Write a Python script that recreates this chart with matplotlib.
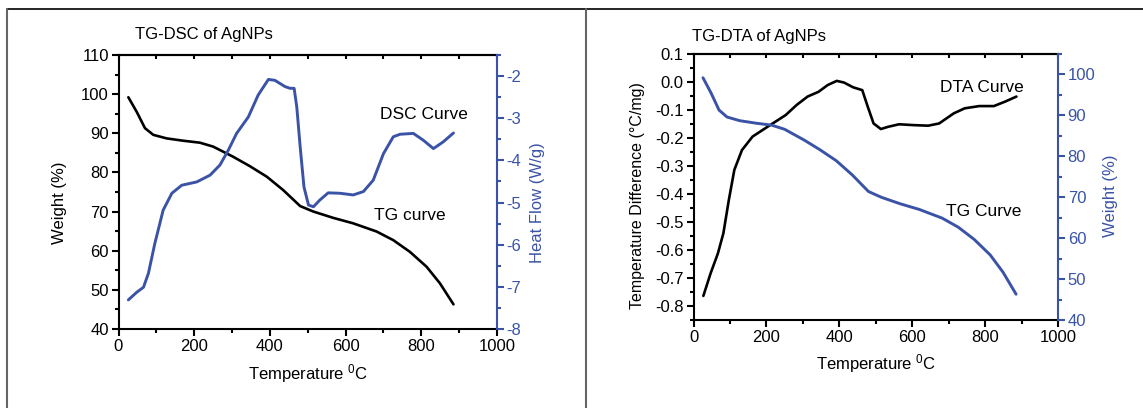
#TG-DSC / TG-DTA of AgNPs
import numpy as np
import matplotlib
matplotlib.use("Agg")
import matplotlib.pyplot as plt
from matplotlib.lines import Line2D
from matplotlib.ticker import MultipleLocator

plt.rcParams['font.family'] = ['Liberation Sans', 'DejaVu Sans']
plt.rcParams['mathtext.fontset'] = 'custom'
plt.rcParams['mathtext.rm'] = 'Liberation Sans'
plt.rcParams['mathtext.it'] = 'Liberation Sans:italic'
plt.rcParams['axes.unicode_minus'] = False
plt.rcParams['lines.solid_joinstyle'] = 'round'
plt.rcParams['lines.solid_capstyle'] = 'round'

BLUE = '#3a53a6'

#TG curve (weight %) -- same data in both panels
tg_temp = [26, 48, 70, 92, 127, 171, 215, 250, 303, 347, 392, 435, 480, 515,
           567, 620, 682, 726, 770, 814, 849, 885]
tg_weight = [99.2, 95.5, 91.3, 89.6, 88.7, 88.1, 87.6, 86.6, 84.0, 81.6, 78.9, 75.5,
             71.4, 70.0, 68.4, 67.0, 64.9, 62.7, 59.7, 55.9, 51.7, 46.3]

#DSC curve (heat flow W/g)
dsc_temp = [26, 48, 66, 79, 96, 118, 141, 167, 207, 242, 268, 290, 312, 343, 369,
            396, 413, 440, 453, 464, 471, 480, 490, 502, 515, 532, 554, 585, 620,
            647, 673, 700, 726, 744, 779, 805, 832, 858, 885]
dsc_flow = [-7.31, -7.13, -7.01, -6.68, -5.97, -5.18, -4.78, -4.59, -4.51, -4.35,
            -4.11, -3.76, -3.36, -2.97, -2.45, -2.08, -2.10, -2.25, -2.29, -2.29,
            -2.73, -3.68, -4.63, -5.06, -5.10, -4.94, -4.77, -4.78, -4.82, -4.74,
            -4.47, -3.84, -3.44, -3.38, -3.36, -3.52, -3.72, -3.56, -3.35]

#DTA curve (temperature difference C/mg)
dta_temp = [27, 47, 67, 82, 97, 112, 133, 162, 203, 253, 283, 313, 343, 368, 393,
            413, 438, 463, 478, 494, 514, 534, 564, 604, 644, 674, 714, 744, 784,
            824, 855, 886]
dta_diff = [-0.764, -0.683, -0.612, -0.540, -0.421, -0.314, -0.243, -0.195, -0.160,
            -0.118, -0.082, -0.052, -0.035, -0.011, 0.004, -0.002, -0.019, -0.029,
            -0.088, -0.148, -0.168, -0.160, -0.151, -0.154, -0.156, -0.148, -0.112,
            -0.094, -0.086, -0.086, -0.070, -0.052]

fig = plt.figure(figsize=(11.43, 4.08), dpi=100)

#frame lines around the picture
fig.add_artist(Line2D([7/1143, 1], [1-9.3/408, 1-9.3/408], color='black', lw=1.2))
fig.add_artist(Line2D([7/1143, 7/1143], [0, 1-9.3/408], color='#666666', lw=1.5))
fig.add_artist(Line2D([586/1143, 586/1143], [0, 1-9.3/408], color='#666666', lw=1.5))


def style(ax, ax2):
    ax.spines['right'].set_visible(False)
    for s in ['left', 'bottom', 'top']:
        ax.spines[s].set_linewidth(1.5)
    ax2.spines['right'].set_linewidth(1.5)
    ax2.spines['right'].set_color(BLUE)
    for s in ['left', 'bottom', 'top']:
        ax2.spines[s].set_visible(False)
    ax.tick_params(which='major', direction='out', length=5, width=1.5,
                   labelsize=12, pad=2)
    ax.tick_params(which='minor', direction='out', length=3, width=1.5)
    ax2.tick_params(which='major', direction='out', length=5, width=1.5,
                    labelsize=12, pad=2, colors=BLUE)
    ax2.tick_params(which='minor', direction='out', length=3, width=1.5, colors=BLUE)
    ax.set_xlim(0, 1000)
    ax.xaxis.set_major_locator(MultipleLocator(200))
    ax.xaxis.set_minor_locator(MultipleLocator(100))
    top = ax.secondary_xaxis('top')
    top.xaxis.set_major_locator(MultipleLocator(100))
    top.tick_params(direction='in', length=3, width=1.5, labeltop=False)
    top.spines['top'].set_linewidth(1.5)


#----- left panel: TG-DSC -----
ax = fig.add_axes([118.5/1143, 1-329/408, 378.5/1143, 274/408])
ax2 = ax.twinx()
ax.plot(tg_temp, tg_weight, color='black', lw=1.9)
ax2.plot(dsc_temp, dsc_flow, color=BLUE, lw=2.1)
ax.set_ylim(40, 110)
ax.yaxis.set_major_locator(MultipleLocator(10))
ax.yaxis.set_minor_locator(MultipleLocator(5))
ax2.set_ylim(-8, -1.5)
ax2.yaxis.set_major_locator(MultipleLocator(1))
ax2.yaxis.set_minor_locator(MultipleLocator(0.5))
style(ax, ax2)
ax.set_xlabel('Temperature $^{0}$C', fontsize=12)
ax.xaxis.set_label_coords(0.5, -0.164)
ax.xaxis.label.set_va('center')
ax.set_ylabel('Weight (%)', fontsize=12)
ax.yaxis.set_label_coords(-0.155, 0.46)
ax.yaxis.label.set_va('center')
ax2.set_ylabel('Heat Flow (W/g)', fontsize=12, color=BLUE)
ax2.yaxis.set_label_coords(1.108, 0.46)
ax2.yaxis.label.set_va('center')
ax.text(691, 94.7, 'DSC Curve', fontsize=12.5, va='center', ha='left')
ax.text(676, 68.9, 'TG curve', fontsize=12.5, va='center', ha='left')
fig.text(135/1143, 1-34/408, 'TG-DSC of AgNPs', fontsize=12, va='center', ha='left')

#----- right panel: TG-DTA -----
bx = fig.add_axes([693.5/1143, 1-320/408, 364.5/1143, 266/408])
bx2 = bx.twinx()
bx.plot(dta_temp, dta_diff, color='black', lw=1.9)
bx2.plot(tg_temp, tg_weight, color=BLUE, lw=2.1)
bx.set_ylim(-0.85, 0.1)
bx.yaxis.set_major_locator(MultipleLocator(0.1))
bx.yaxis.set_minor_locator(MultipleLocator(0.05))
bx.yaxis.set_major_formatter(lambda v, p: f"{v:.1f}".replace('-0.0', '0.0'))
bx2.set_ylim(40, 105)
bx2.yaxis.set_major_locator(MultipleLocator(10))
bx2.yaxis.set_minor_locator(MultipleLocator(5))
style(bx, bx2)
bx.set_xlabel('Temperature $^{0}$C', fontsize=12)
bx.xaxis.set_label_coords(0.5, -0.162)
bx.xaxis.label.set_va('center')
bx.set_ylabel('Temperature Difference (\u00b0C/mg)', fontsize=11.5)
bx.yaxis.set_label_coords(-0.153, 0.466)
bx.yaxis.label.set_va('center')
bx2.set_ylabel('Weight (%)', fontsize=12, color=BLUE)
bx2.yaxis.set_label_coords(1.145, 0.466)
bx2.yaxis.label.set_va('center')
bx.text(676, -0.020, 'DTA Curve', fontsize=12.5, va='center', ha='left')
bx.text(694, -0.464, 'TG Curve', fontsize=12.5, va='center', ha='left')
fig.text(692/1143, 1-36.7/408, 'TG-DTA of AgNPs', fontsize=12, va='center', ha='left')

plt.savefig("out.png", dpi=100)
